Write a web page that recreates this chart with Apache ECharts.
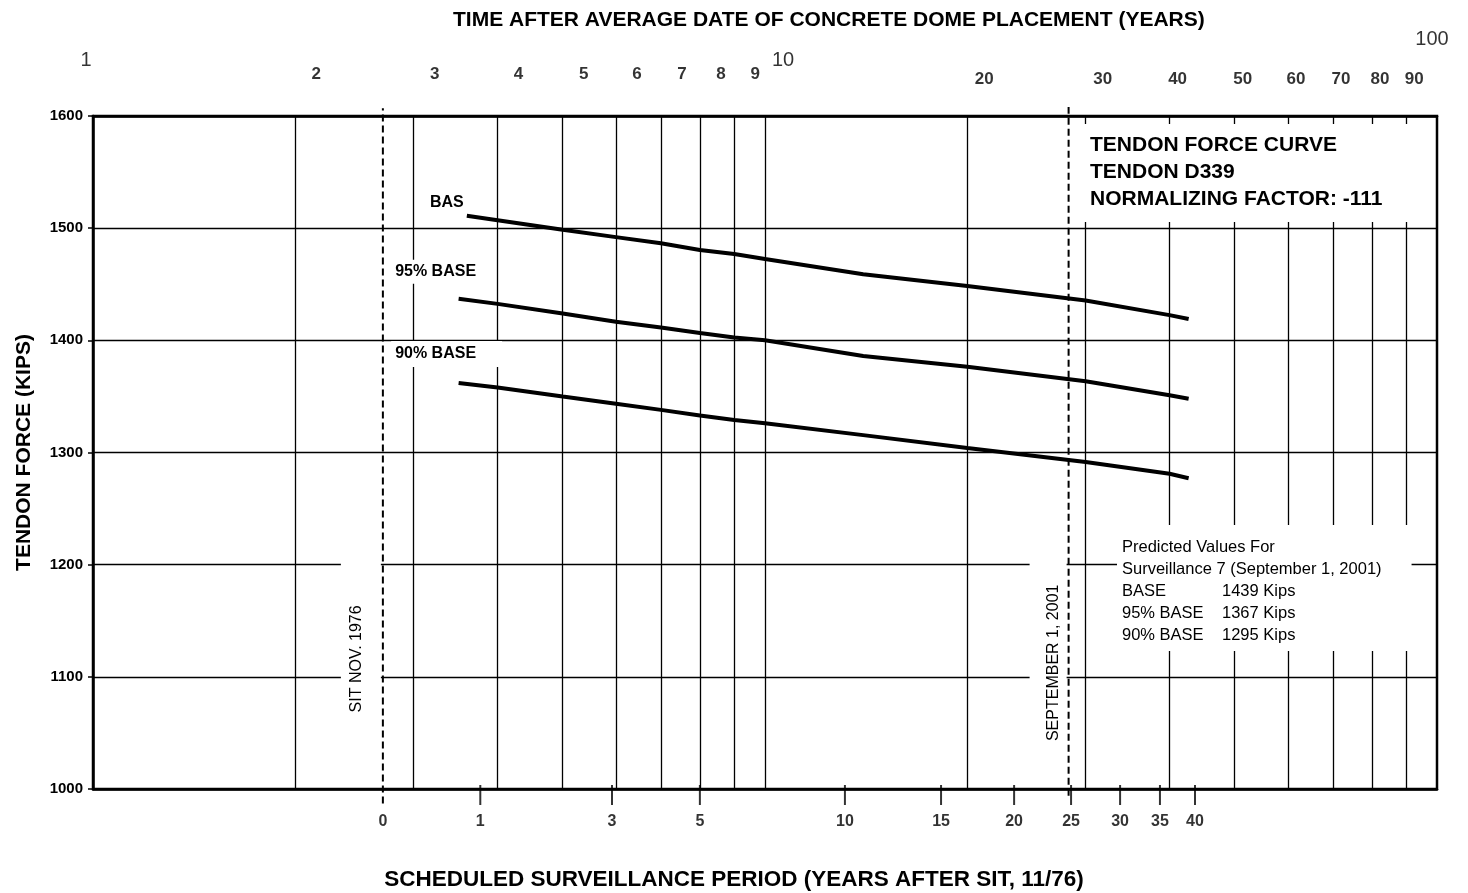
<!DOCTYPE html>
<html>
<head>
<meta charset="utf-8">
<title>Tendon force curve D339</title>
<script src="https://cdn.jsdelivr.net/npm/echarts@6.0.0/dist/echarts.min.js"></script>
<style>
  html, body { margin: 0; padding: 0; background: #fff; }
  #chart { width: 1468px; height: 893px; }
</style>
</head>
<body>
<div id="chart"></div>
<script>
// time after average date of dome placement (years), log axis
const topLabelYears = [1, 2, 3, 4, 5, 6, 7, 8, 9, 10, 20, 30, 40, 50, 60, 70, 80, 90, 100]
const gridYears = [2, 3, 4, 5, 6, 7, 8, 9, 10, 20, 30, 40, 50, 60, 70, 80, 90]

// scheduled surveillance period (years after SIT) and where each tick sits on the time axis
const periodLabels = ['0', '1', '3', '5', '10', '15', '20', '25', '30', '35', '40']
const periodTickYears = [2.7, 3.77, 5.92, 8.0, 13.15, 18.28, 23.48, 28.54, 33.76, 38.7, 43.64]

const sitYear = 2.7
const septYear = 28.3

// tendon force curves (kips)
const curveNames = ['BASE', '95% BASE', '90% BASE']
const curveLabels = ['BAS', '95% BASE', '90% BASE']
const baseYears = [3.6, 4, 5, 6, 7, 8, 9, 10, 14, 20, 30, 40, 42.7]
const boundYears = [3.5, 4, 5, 6, 7, 8, 9, 10, 14, 20, 30, 40, 42.7]
const baseForce = [1511, 1507, 1498.5, 1492, 1486.5, 1480.5, 1477, 1472.5, 1459, 1448.5, 1435.5, 1422.5, 1419]
const base95Force = [1437, 1432.5, 1424, 1416.5, 1411.5, 1406.5, 1402.5, 1400, 1386, 1376.5, 1363.5, 1351, 1348]
const base90Force = [1362, 1358, 1350, 1343.5, 1338, 1333, 1329, 1326, 1315.5, 1304, 1291.5, 1281, 1277]

// predicted values for surveillance 7
const predicted = [1439, 1367, 1295]
const tendonId = 'D339'
const normalizingFactor = -111

const FONT = '"Liberation Sans", Arial, sans-serif'
const NARROW = '"Liberation Sans Narrow", "Arial Narrow", "Liberation Sans", Arial, sans-serif'

// label placement for the curve names (white box hides the grid behind)
const curveLabelStyle = [
  {offset: [-20, -13]},
  {offset: [-23, -27], padding: [1, 3, 7, 3], backgroundColor: '#fff'},
  {offset: [-12, -29], padding: [5, 26, 5, 4], backgroundColor: '#fff'}
]

function topLabel(t) {
  let dx = t < 10 ? 21 : (t < 40 ? 17 : 8)
  let dy = t < 10 ? -42 : -37
  let big = false
  if (t === 1) { dx = -7; dy = -56; big = true }
  if (t === 10) { dx = 18; dy = -56; big = true }
  if (t === 100) { dx = -5; dy = -77; big = true }
  return {
    value: [t, 1600],
    label: {
      offset: [dx, dy],
      fontSize: big ? 20 : 17,
      fontWeight: big ? 'normal' : 'bold',
      fontFamily: big ? FONT : NARROW
    }
  }
}

function curve(i, years, values) {
  return {
    type: 'line',
    name: curveNames[i],
    xAxisIndex: 0,
    data: years.map((t, k) => [t, values[k]]),
    symbol: 'none',
    silent: true,
    z: 4,
    lineStyle: {color: '#000', width: 4},
    markPoint: {
      symbol: 'circle',
      symbolSize: 0,
      silent: true,
      data: [{coord: [years[0], values[0]]}],
      label: {
        show: true,
        position: 'inside',
        formatter: curveLabels[i],
        color: '#000',
        fontFamily: FONT,
        fontSize: 16,
        fontWeight: 'bold',
        ...curveLabelStyle[i]
      }
    }
  }
}

function dashed(year, from, to, text, labelFrom, labelTo, padding) {
  return {
    type: 'line',
    xAxisIndex: 0,
    data: [[year, from], [year, to]],
    clip: false,
    symbol: 'none',
    silent: true,
    z: 3,
    lineStyle: {color: '#000', width: 2, type: [7, 4]},
    markLine: {
      silent: true,
      symbol: ['none', 'none'],
      lineStyle: {color: 'rgba(0,0,0,0)', width: 0, opacity: 1},
      label: {
        show: true,
        opacity: 1,
        position: 'insideMiddleTop',
        formatter: text,
        color: '#000',
        fontFamily: FONT,
        fontSize: 16,
        distance: 2,
        backgroundColor: '#fff',
        padding: padding
      },
      data: [[{coord: [year, labelFrom]}, {coord: [year, labelTo]}]]
    }
  }
}

const chart = echarts.init(document.getElementById('chart'))

const option = {
  animation: false,
  textStyle: {fontFamily: FONT, color: '#000'},
  grid: {left: 93, right: 31, top: 116, bottom: 104, show: true, borderColor: '#000', borderWidth: 2.5},
  title: [
    {
      text: 'TIME AFTER AVERAGE DATE OF CONCRETE DOME PLACEMENT (YEARS)',
      left: 453, top: 10, padding: 0,
      textStyle: {fontFamily: FONT, fontSize: 21, fontWeight: 'bold', color: '#000'}
    },
    {
      text: 'SCHEDULED SURVEILLANCE PERIOD (YEARS AFTER SIT, 11/76)',
      left: 'center', top: 868, padding: 0,
      textStyle: {fontFamily: FONT, fontSize: 22.5, fontWeight: 'bold', color: '#000'}
    },
    {
      text: 'TENDON FORCE CURVE\nTENDON ' + tendonId + '\nNORMALIZING FACTOR: ' + normalizingFactor,
      left: 1084, top: 124, padding: [8, 36, 9, 6],
      backgroundColor: '#fff',
      textStyle: {fontFamily: FONT, fontSize: 21, fontWeight: 'bold', color: '#000', lineHeight: 27}
    },
    {
      text: ['Predicted Values For', 'Surveillance 7 (September 1, 2001)']
        .concat(curveNames.map((n, i) => '{k|' + n + '}' + predicted[i] + ' Kips')).join('\n'),
      left: 1117, top: 525, padding: [11, 30, 5, 5],
      backgroundColor: '#fff',
      textStyle: {
        fontFamily: FONT, fontSize: 16.5, fontWeight: 'normal', color: '#000', lineHeight: 22,
        rich: {k: {width: 100, fontFamily: FONT, fontSize: 16.5, color: '#000', lineHeight: 22}}
      }
    }
  ],
  xAxis: [
    {
      type: 'log', logBase: 10, min: 1, max: 100, position: 'bottom',
      axisLine: {show: true, lineStyle: {color: '#000', width: 2.5}},
      axisTick: {show: false}, axisLabel: {show: false}, splitLine: {show: false}
    },
    {
      type: 'log', logBase: 10, min: 1, max: 100, position: 'top',
      axisLine: {show: true, lineStyle: {color: '#000', width: 2.5}},
      axisTick: {show: false}, axisLabel: {show: false}, splitLine: {show: false}
    }
  ],
  yAxis: {
    type: 'value', min: 1000, max: 1600, interval: 100,
    name: 'TENDON FORCE (KIPS)', nameLocation: 'middle', nameGap: 58,
    nameTextStyle: {fontFamily: FONT, fontSize: 21, fontWeight: 'bold', color: '#000'},
    axisLine: {show: true, lineStyle: {color: '#000', width: 2.5}},
    axisTick: {show: true, length: 5, lineStyle: {color: '#000', width: 1.5}},
    axisLabel: {color: '#000', fontFamily: FONT, fontSize: 15, fontWeight: 'bold', margin: 10, formatter: v => String(v)},
    splitLine: {show: true, lineStyle: {color: '#000', width: 1.3}}
  },
  series: [
    {
      type: 'line', xAxisIndex: 0, data: [], silent: true,
      markLine: {
        silent: true, symbol: ['none', 'none'],
        label: {show: false},
        lineStyle: {color: '#000', width: 1.3, type: 'solid'},
        data: gridYears.map(v => ({xAxis: v}))
      }
    },
    {
      type: 'scatter', xAxisIndex: 1, symbolSize: 0, clip: false, silent: true,
      data: topLabelYears.map(topLabel),
      label: {show: true, position: 'inside', color: '#000', formatter: p => String(p.value[0])}
    },
    {
      type: 'scatter', xAxisIndex: 0, symbol: 'rect', symbolSize: [2, 20], symbolOffset: [0, 6],
      clip: false, silent: true, itemStyle: {color: '#000'},
      data: periodTickYears.map((t, i) => ({
        value: [t, 1000], name: periodLabels[i],
        symbolSize: i === 0 ? [0, 20] : [2, 20]
      })),
      label: {
        show: true, position: 'bottom', distance: 9, formatter: p => p.name,
        color: '#000', fontFamily: FONT, fontSize: 16, fontWeight: 'bold'
      }
    },
    dashed(sitYear, 987, 1607, 'SIT NOV. 1976', 1040, 1192, [8, 45, 16, 45]),
    dashed(septYear, 994, 1608, 'SEPTEMBER 1, 2001', 1035, 1190, [16, 40, 5, 40]),
    curve(0, baseYears, baseForce),
    curve(1, boundYears, base95Force),
    curve(2, boundYears, base90Force)
  ]
}

chart.setOption(option)
</script>
</body>
</html>
